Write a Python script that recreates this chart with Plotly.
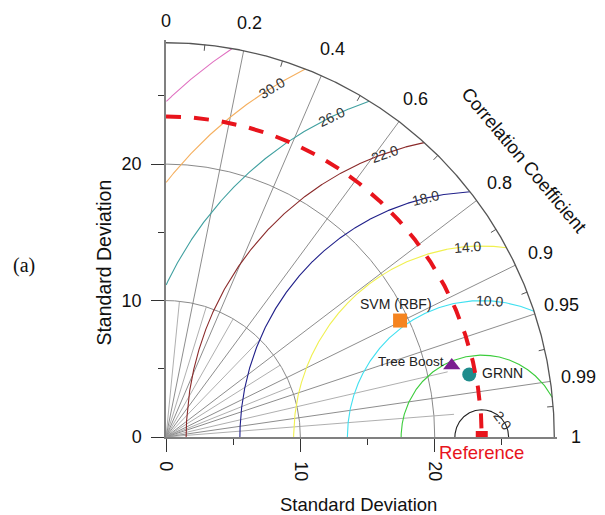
import numpy as np
import plotly.graph_objects as go

# ---- data -------------------------------------------------------------
ref_std = 23.5                                   # observed standard deviation
model_names = ["SVM (RBF)", "Tree Boost", "GRNN"]
model_std = [19.4, 21.9, 23.03]
model_corr = [0.898, 0.971, 0.980]

rms_levels = [2, 6, 10, 14, 18, 22, 26, 30, 34]   # centred RMS difference contours
rms_labels = ["2.0", "", "10.0", "14.0", "18.0", "22.0", "26.0", "30.0", ""]

corr_major = [0.2, 0.4, 0.6, 0.8, 0.9, 0.95, 0.99]
corr_minor = [0.1, 0.3, 0.5, 0.7, 0.85, 0.93, 0.975, 0.997]
corr_tick_labels = ["0", "0.2", "0.4", "0.6", "0.8", "0.9", "0.95", "0.99", "1"]
corr_tick_values = [0.0, 0.2, 0.4, 0.6, 0.8, 0.9, 0.95, 0.99, 1.0]

std_ticks = [0, 10, 20]
std_minor_ticks = [5, 15, 25]
std_arcs = [10, 20]

# ---- styling ----------------------------------------------------------
R_MAX = 28.9
AX_MAX = 29.1
FONT = "Arial, Liberation Sans, sans-serif"
rms_colors = ["#222222", "#3ccc3c", "#40e0f0", "#f0f050", "#20208a",
              "#8b2a2a", "#40a0a0", "#f5b060", "#e070c0"]
rms_label_angle = {2: 37, 10: 86.5, 14: 94.2, 18: 103.4, 22: 109.2, 26: 115.5, 30: 121.4}
minor_len = {0.1: 10, 0.3: 10, 0.5: 10, 0.7: 10, 0.85: 10, 0.93: 10, 0.975: 21.5, 0.997: 21.5}
model_colors = ["#f5841f", "#7a1f8f", "#1f8c8c"]
model_symbols = ["square", "triangle-up", "circle"]
model_sizes = [14, 15, 14]


def polar(r, c):
    t = np.arccos(c)
    return r * np.cos(t), r * np.sin(t)


def paper_note(x, y, text, size=18, color="#111111", angle=0, family=FONT):
    fig.add_annotation(x=x / AX_MAX, y=y / AX_MAX, xref="paper", yref="paper",
                       text=text, showarrow=False, textangle=angle,
                       xanchor="center", yanchor="middle",
                       font=dict(family=family, size=size, color=color))


fig = go.Figure()

# standard deviation arcs
th = np.linspace(0, np.pi / 2, 400)
for r in std_arcs:
    fig.add_trace(go.Scatter(x=r * np.cos(th), y=r * np.sin(th), mode="lines",
                             line=dict(color="#8a8a8a", width=1), hoverinfo="skip"))

# radial correlation lines
xs, ys = [], []
for c in corr_major:
    x1, y1 = polar(R_MAX, c)
    xs += [0, x1, None]
    ys += [0, y1, None]
fig.add_trace(go.Scatter(x=xs, y=ys, mode="lines",
                         line=dict(color="#808080", width=0.9), hoverinfo="skip"))
xs, ys = [], []
for c in corr_minor:
    x1, y1 = polar(minor_len[c], c)
    xs += [0, x1, None]
    ys += [0, y1, None]
fig.add_trace(go.Scatter(x=xs, y=ys, mode="lines",
                         line=dict(color="#9a9a9a", width=0.8), hoverinfo="skip"))

# centred RMS difference contours around the reference point
t = np.linspace(0, np.pi, 3000)
for lev, col, lab in zip(rms_levels, rms_colors, rms_labels):
    cx = ref_std + lev * np.cos(t)
    cy = lev * np.sin(t)
    inside = (cx >= 0) & (cx ** 2 + cy ** 2 <= R_MAX ** 2)
    cx = np.where(inside, cx, np.nan)
    cy = np.where(inside, cy, np.nan)
    fig.add_trace(go.Scatter(x=cx, y=cy, mode="lines", connectgaps=False,
                             line=dict(color=col, width=1.1), hoverinfo="skip"))
    if lab:
        phi = rms_label_angle[lev]
        fig.add_annotation(x=ref_std + lev * np.cos(np.radians(phi)),
                           y=lev * np.sin(np.radians(phi)),
                           text=lab, showarrow=False, textangle=90 - phi,
                           xanchor="center", yanchor="middle",
                           font=dict(family=FONT, size=14, color="#333333"))

# outer boundary arc with minor ticks
fig.add_trace(go.Scatter(x=R_MAX * np.cos(th), y=R_MAX * np.sin(th), mode="lines",
                         line=dict(color="#555555", width=1.3), hoverinfo="skip"))
xs, ys = [], []
for c in corr_minor:
    x0, y0 = polar(R_MAX, c)
    x1, y1 = polar(R_MAX - 0.45, c)
    xs += [x0, x1, None]
    ys += [y0, y1, None]
fig.add_trace(go.Scatter(x=xs, y=ys, mode="lines",
                         line=dict(color="#555555", width=1), hoverinfo="skip"))

# model points
for name, s, c, col, sym, sz in zip(model_names, model_std, model_corr,
                                    model_colors, model_symbols, model_sizes):
    px, py = polar(s, c)
    fig.add_trace(go.Scatter(x=[px], y=[py], mode="markers", name=name,
                             marker=dict(symbol=sym, size=sz, color=col,
                                         line=dict(width=0)), hoverinfo="skip"))

# reference point and its standard-deviation arc
fig.add_trace(go.Scatter(x=[ref_std], y=[0], mode="markers", cliponaxis=True,
                         marker=dict(symbol="square", size=12, color="#e8141c"),
                         hoverinfo="skip"))
fig.add_trace(go.Scatter(x=ref_std * np.cos(th[::-1]), y=ref_std * np.sin(th[::-1]),
                         mode="lines", line=dict(color="#e8141c", width=4, dash="15px,13px"),
                         hoverinfo="skip"))

# model labels
mx = [polar(s, c) for s, c in zip(model_std, model_corr)]
fig.add_annotation(x=mx[0][0], y=mx[0][1], text=model_names[0], showarrow=False,
                   xanchor="center", yanchor="middle", xshift=-4, yshift=17,
                   font=dict(family=FONT, size=14, color="#222222"))
fig.add_annotation(x=mx[1][0], y=mx[1][1], text=model_names[1], showarrow=False,
                   xanchor="right", yanchor="middle", xshift=-6, yshift=4,
                   font=dict(family=FONT, size=13.5, color="#222222"))
fig.add_annotation(x=mx[2][0], y=mx[2][1], text=model_names[2], showarrow=False,
                   xanchor="left", yanchor="middle", xshift=11, yshift=1,
                   font=dict(family=FONT, size=14, color="#222222"))

# correlation tick labels around the outer arc (paper coordinates)
for lab, c in zip(corr_tick_labels, corr_tick_values):
    r = 30.5 if len(lab) == 1 else 31.0
    x, y = polar(r, c)
    paper_note(x, y, lab, size=18)

paper_note(26.7, 20.3, "Correlation Coefficient", size=18.5, angle=50)
paper_note(ref_std, -1.15, "Reference", size=18.5, color="#e8141c")
paper_note(14.3, -4.95, "Standard Deviation", size=18.5)
paper_note(-4.6, 12.8, "Standard Deviation", size=19.5, angle=-90)
paper_note(-10.6, 12.6, "(a)", size=20,
           family="Liberation Serif, Times New Roman, serif")

axis_common = dict(range=[0, AX_MAX], showgrid=False, zeroline=False,
                   showline=True, linecolor="#808080", linewidth=1.5,
                   ticks="outside", tickmode="array", tickvals=std_ticks,
                   ticklen=13, tickwidth=1.2, tickcolor="#333333",
                   ticklabelstandoff=6,
                   tickfont=dict(family=FONT, size=18, color="#111111"),
                   minor=dict(tickmode="array", tickvals=std_minor_ticks, ticks="outside",
                              ticklen=6, tickwidth=1.1, tickcolor="#333333"),
                   fixedrange=True)

fig.update_layout(
    width=605, height=515,
    margin=dict(l=166, r=48, t=40, b=78),
    paper_bgcolor="white", plot_bgcolor="white",
    showlegend=False,
    xaxis=dict(axis_common, tickangle=90),
    yaxis=dict(axis_common),
)

fig.write_html("out.html")
